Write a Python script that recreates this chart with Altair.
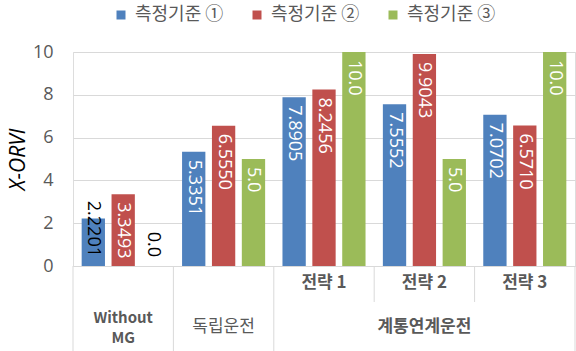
import altair as alt
import pandas as pd

groups = ["Without MG", "독립운전", "전략 1", "전략 2", "전략 3"]
series = ["측정기준 ①", "측정기준 ②", "측정기준 ③"]
colors = ["#4f81bd", "#c0504d", "#9bbb59"]
vals_1 = [2.2201, 5.3351, 7.8905, 7.5552, 7.0702]
vals_2 = [3.3493, 6.5550, 8.2456, 9.9043, 6.5710]
vals_3 = [0.0, 5.0, 10.0, 5.0, 10.0]
labels_1 = ["2.2201", "5.3351", "7.8905", "7.5552", "7.0702"]
labels_2 = ["3.3493", "6.5550", "8.2456", "9.9043", "6.5710"]
labels_3 = ["0.0", "5.0", "10.0", "5.0", "10.0"]
y_ticks = [0, 2, 4, 6, 8, 10]

wrap_label = ["Without MG"]
wrap_label_at = ["Without MG"]
top_labels_bold = ["계통연계운전"]
top_labels_bold_at = ["전략 2"]
top_labels_plain = ["독립운전"]
top_labels_plain_at = ["독립운전"]
sub_groups = ["전략 1", "전략 2", "전략 3"]
full_dividers = ["Without MG", "독립운전", "전략 1"]
short_dividers = ["전략 2", "전략 3"]
right_edge = ["전략 3"]

rows = []
for s, vals, labs in zip(series, [vals_1, vals_2, vals_3], [labels_1, labels_2, labels_3]):
    for g, v, l in zip(groups, vals, labs):
        rows.append({"group": g, "series": s, "value": v, "label": l,
                     "fits": v >= 3, "zero": 0})
df = pd.DataFrame(rows)

GRID = "#d9d9d9"
TXT = "#595959"
NUM_FONT = "Open Sans"
KR_FONT = "Noto Sans CJK KR"

x_scale = alt.Scale(domain=groups, paddingInner=0, paddingOuter=0)
x_axis = alt.Axis(labels=False, ticks=False, title=None, domainColor=GRID, grid=False)
x_enc = alt.X("group:N", sort=groups, scale=x_scale, axis=x_axis)
xoff = alt.XOffset("series:N", sort=series,
                   scale=alt.Scale(domain=series, paddingInner=0.22, paddingOuter=0.29))
y_scale = alt.Scale(domain=[0, 10])

bars = alt.Chart(df).mark_bar().encode(
    x=x_enc,
    xOffset=xoff,
    y=alt.Y("value:Q", scale=y_scale,
            axis=alt.Axis(values=y_ticks, title="X-ORVI", grid=True, gridColor=GRID,
                          domain=False, ticks=False, labelPadding=20,
                          labelFont=NUM_FONT, labelFontSize=18, labelColor=TXT,
                          titleFont=NUM_FONT, titleFontSize=21, titleFontStyle="italic",
                          titleFontWeight="normal", titleColor="#000000", titlePadding=4)),
    color=alt.Color("series:N", sort=series,
                    scale=alt.Scale(domain=series, range=colors),
                    legend=alt.Legend(orient="none", legendX=39, legendY=-46,
                                      direction="horizontal", title=None,
                                      symbolType="square", symbolSize=81,
                                      symbolStrokeWidth=0, labelFont=KR_FONT,
                                      labelFontSize=18, labelColor=TXT,
                                      columnPadding=24, labelOffset=5, padding=0)),
)

inside = alt.Chart(df).transform_filter("datum.fits").mark_text(
    angle=90, align="left", baseline="middle", dx=8, color="white",
    font=NUM_FONT, fontSize=18
).encode(x=x_enc, xOffset=xoff, y=alt.Y("value:Q", scale=y_scale), text="label:N")

outside = alt.Chart(df).transform_filter("!datum.fits").mark_text(
    angle=90, align="right", baseline="middle", dx=-9, color="black",
    font=NUM_FONT, fontSize=18
).encode(x=x_enc, xOffset=xoff, y=alt.Y("zero:Q", scale=y_scale), text="label:N")

sub_df = pd.DataFrame({"group": sub_groups})
sub_text = alt.Chart(sub_df).mark_text(
    font=KR_FONT, fontSize=17, fontWeight="bold", color=TXT, baseline="middle"
).encode(x=x_enc, y=alt.value(231), text="group:N")

wrap_df = pd.DataFrame({"group": wrap_label_at, "label": wrap_label})
wrap_text = alt.Chart(wrap_df).mark_text(
    font=KR_FONT, fontSize=15, fontWeight="bold", color=TXT, baseline="middle",
    lineBreak=" ", lineHeight=20
).encode(x=x_enc, y=alt.value(266), text="label:N")

bold_df = pd.DataFrame({"group": top_labels_bold_at, "label": top_labels_bold})
bold_text = alt.Chart(bold_df).mark_text(
    font=KR_FONT, fontSize=17, fontWeight="bold", color=TXT, baseline="middle"
).encode(x=x_enc, y=alt.value(275), text="label:N")

plain_df = pd.DataFrame({"group": top_labels_plain_at, "label": top_labels_plain})
plain_text = alt.Chart(plain_df).mark_text(
    font=KR_FONT, fontSize=17, color=TXT, baseline="middle"
).encode(x=x_enc, y=alt.value(275), text="label:N")

full_div = alt.Chart(pd.DataFrame({"group": full_dividers})).mark_rule(
    color=GRID, strokeWidth=1
).encode(x=alt.X("group:N", sort=groups, scale=x_scale, axis=x_axis, bandPosition=0),
         y=alt.value(214), y2=alt.value(300))

right_div = alt.Chart(pd.DataFrame({"group": right_edge})).mark_rule(
    color=GRID, strokeWidth=1
).encode(x=alt.X("group:N", sort=groups, scale=x_scale, axis=x_axis, bandPosition=1),
         y=alt.value(214), y2=alt.value(300))

short_div = alt.Chart(pd.DataFrame({"group": short_dividers})).mark_rule(
    color=GRID, strokeWidth=1
).encode(x=alt.X("group:N", sort=groups, scale=x_scale, axis=x_axis, bandPosition=0),
         y=alt.value(214), y2=alt.value(250))

chart = alt.layer(
    bars, inside, outside, full_div, right_div, short_div, sub_text, wrap_text,
    bold_text, plain_text
).properties(
    width=502, height=214,
    autosize=alt.AutoSizeParams(type="none"),
    padding={"left": 73, "top": 52, "right": 1, "bottom": 85},
).configure_view(stroke=None).configure(background="white")

chart.save("out.html", embed_options={"renderer": "svg", "actions": False})
